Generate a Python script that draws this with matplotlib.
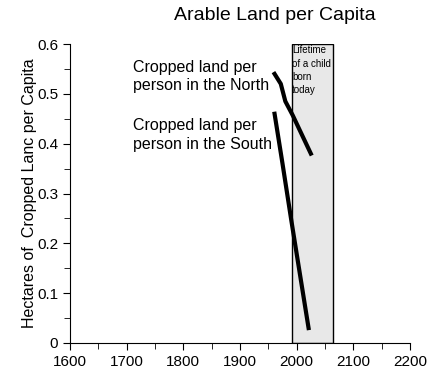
import matplotlib
matplotlib.use("Agg")
import matplotlib.pyplot as plt
from matplotlib.ticker import MultipleLocator

# data
north_years = [1961, 1972, 1980, 1993, 2025]
north_land = [0.54, 0.52, 0.485, 0.457, 0.38]
south_years = [1961, 1975, 1990, 2021]
south_land = [0.46, 0.36, 0.25, 0.03]
lifetime_span = [1991, 2064]

plt.rcParams['font.family'] = ['Liberation Sans', 'DejaVu Sans']

fig = plt.figure(figsize=(4.43, 3.83), dpi=100)
ax = fig.add_axes([70 / 443, 1 - 343 / 383, 340 / 443, 299 / 383])

ax.axvspan(lifetime_span[0], lifetime_span[1], ymin=0, ymax=1,
           facecolor='#e8e8e8', edgecolor='black', linewidth=1, zorder=1)
ax.plot(north_years, north_land, color='black', linewidth=3, zorder=3)
ax.plot(south_years, south_land, color='black', linewidth=3, zorder=3)

ax.text(1711, 0.535, "Cropped land per\nperson in the North", fontsize=11.5,
        linespacing=1.3, va='center', ha='left')
ax.text(1711, 0.417, "Cropped land per\nperson in the South", fontsize=11.5,
        linespacing=1.3, va='center', ha='left')
ax.text(1992, 0.597, "Lifetime\nof a child\nborn\ntoday", fontsize=7,
        va='top', ha='left', linespacing=1.4)

ax.set_xlim(1600, 2200)
ax.set_ylim(0, 0.6)
ax.xaxis.set_major_locator(MultipleLocator(100))
ax.xaxis.set_minor_locator(MultipleLocator(50))
ax.yaxis.set_minor_locator(MultipleLocator(0.05))
ax.set_yticks([0, 0.1, 0.2, 0.3, 0.4, 0.5, 0.6])
ax.set_yticklabels(['0', '0.1', '0.2', '0.3', '0.4', '0.5', '0.6'])
ax.tick_params(which='both', direction='out', labelsize=11)
ax.tick_params(which='major', length=5)
ax.tick_params(which='minor', length=4)
for s in ['top', 'right']:
    ax.spines[s].set_visible(False)

ax.set_ylabel("Hectares of  Cropped Lanc per Capita", fontsize=11.5, labelpad=0)
fig.text(275 / 443, 1 - 15 / 383, "Arable Land per Capita", fontsize=14,
         ha='center', va='center')

fig.savefig("out.png", dpi=100)
